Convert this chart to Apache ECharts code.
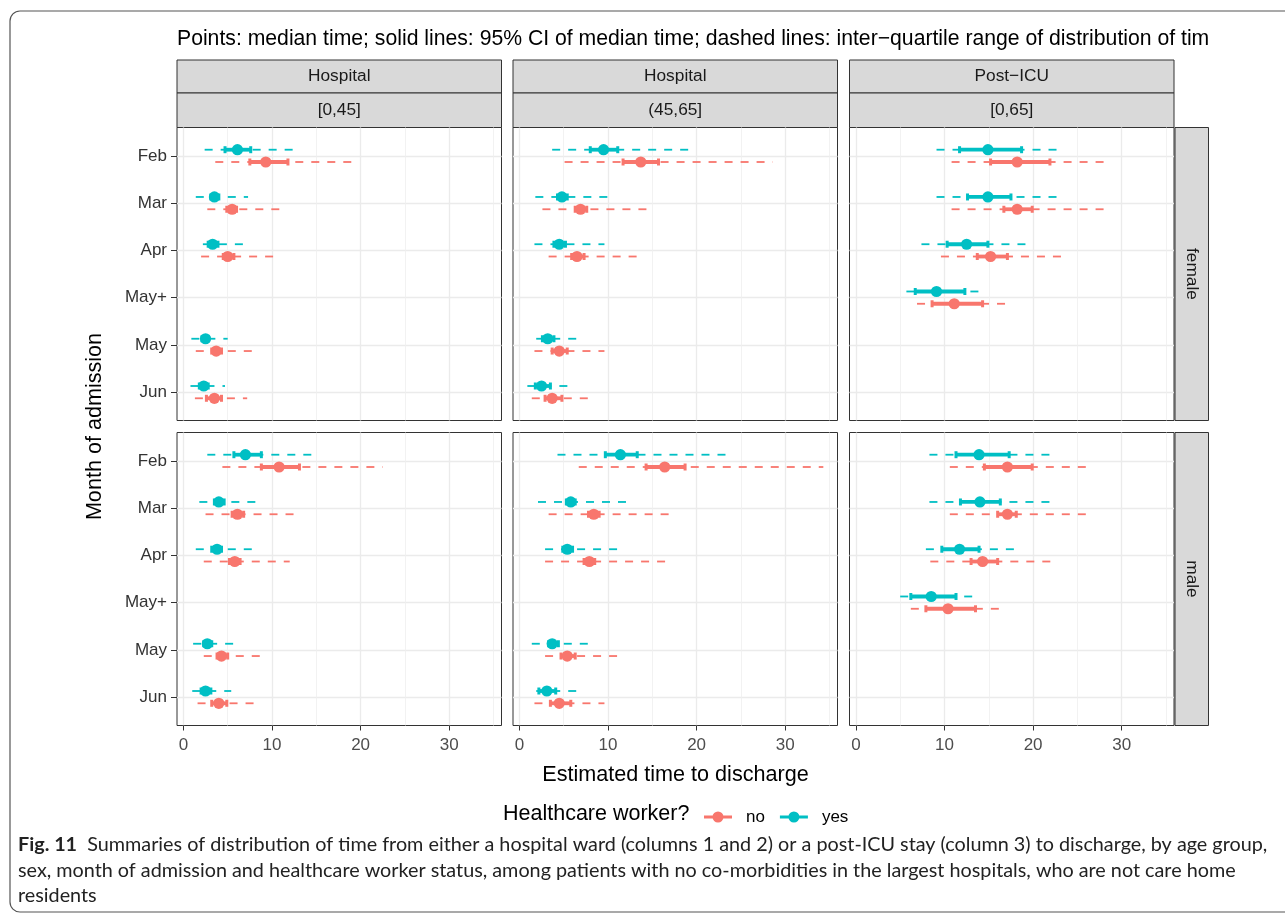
<!DOCTYPE html>
<html>
<head>
<meta charset="utf-8">
<script src="https://cdn.jsdelivr.net/npm/echarts@6/dist/echarts.min.js"></script>
<style>
  html, body { margin: 0; padding: 0; background: #fff; }
  #main { width: 1285px; height: 915px; }
</style>
</head>
<body>
<div id="main"></div>
<script>
// categories / facet labels
const months = ['Feb', 'Mar', 'Apr', 'May+', 'May', 'Jun'];
const setting = ['Hospital', 'Hospital', 'Post\u2212ICU'];
const ageGroup = ['[0,45]', '(45,65]', '[0,65]'];
const sexes = ['female', 'male'];
const xTicks = [0, 10, 20, 30];
const xMinorTicks = [5, 15, 25, 35];

// rows per month: [median, 95% CI low, 95% CI high, IQR low, IQR high]; null = no data
// female
const femHosp045Yes = [[6.1, 4.7, 7.6, 2.4, 12.7], [3.5, 3.1, 4.0, 1.4, 7.3], [3.3, 2.8, 3.9, 2.2, 6.9], null, [2.5, 2.1, 2.8, 0.9, 5.0], [2.3, 1.8, 2.8, 0.8, 4.7]];
const femHosp045No = [[9.3, 7.5, 11.8, 3.6, 19.6], [5.5, 4.9, 6.0, 2.7, 11.3], [5.0, 4.5, 5.7, 2.0, 10.5], null, [3.7, 3.2, 4.3, 1.4, 7.8], [3.5, 2.6, 4.3, 1.3, 7.2]];
const femHosp4565Yes = [[9.5, 8.0, 11.1, 3.7, 19.9], [4.8, 4.3, 5.4, 1.8, 10.1], [4.5, 3.9, 5.2, 1.7, 9.6], null, [3.2, 2.6, 3.9, 1.9, 6.6], [2.5, 1.8, 3.5, 0.9, 5.5]];
const femHosp4565No = [[13.7, 11.7, 15.7, 5.1, 28.6], [6.9, 6.3, 7.6, 2.6, 14.6], [6.5, 5.9, 7.3, 3.3, 13.7], null, [4.5, 3.7, 5.4, 1.7, 9.6], [3.7, 2.9, 4.8, 1.4, 8.0]];
const femIcuYes = [[14.9, 11.7, 18.7, 9.1, 23.4], [14.9, 12.6, 17.5, 9.1, 23.4], [12.5, 10.3, 14.9, 7.4, 19.5], [9.1, 6.7, 12.3, 5.7, 14.2], null, null];
const femIcuNo = [[18.2, 15.2, 21.9, 10.8, 28.6], [18.2, 16.7, 19.9, 10.8, 28.6], [15.2, 13.7, 17.1, 9.6, 23.9], [11.1, 8.6, 14.3, 6.9, 17.4], null, null];
// male
const maleHosp045Yes = [[7.0, 5.7, 8.8, 2.7, 14.6], [4.0, 3.5, 4.6, 1.8, 8.4], [3.8, 3.2, 4.3, 1.4, 7.8], null, [2.7, 2.3, 3.2, 1.1, 5.8], [2.5, 2.0, 3.1, 1.0, 5.4]];
const maleHosp045No = [[10.8, 8.8, 13.1, 4.4, 22.5], [6.1, 5.5, 6.8, 2.5, 13.0], [5.8, 5.2, 6.4, 2.3, 12.0], null, [4.3, 3.8, 5.0, 2.3, 8.9], [4.0, 3.2, 4.9, 1.6, 8.2]];
const maleHosp4565Yes = [[11.4, 9.7, 13.3, 4.3, 23.9], [5.8, 5.3, 6.3, 2.1, 12.2], [5.4, 4.9, 6.0, 2.9, 11.6], null, [3.7, 3.3, 4.4, 1.4, 8.0], [3.1, 2.2, 4.1, 1.9, 6.6]];
const maleHosp4565No = [[16.4, 14.3, 18.7, 6.7, 34.3], [8.4, 7.8, 9.0, 3.3, 17.5], [7.9, 7.3, 8.5, 2.9, 16.5], null, [5.4, 4.7, 6.3, 2.9, 11.6], [4.5, 3.5, 5.8, 1.7, 9.6]];
const maleIcuYes = [[13.9, 11.3, 17.3, 8.3, 21.9], [14.0, 11.8, 16.3, 8.3, 22.0], [11.7, 9.7, 13.9, 7.9, 18.3], [8.5, 6.2, 11.3, 5.0, 13.3], null, null];
const maleIcuNo = [[17.1, 14.5, 19.9, 10.6, 26.8], [17.1, 16.0, 18.1, 10.6, 26.8], [14.3, 13.0, 16.0, 8.4, 22.4], [10.4, 7.9, 13.5, 6.2, 16.3], null, null];

// panels in reading order (row = sex, col = setting/age)
const panelsYes = [femHosp045Yes, femHosp4565Yes, femIcuYes, maleHosp045Yes, maleHosp4565Yes, maleIcuYes];
const panelsNo = [femHosp045No, femHosp4565No, femIcuNo, maleHosp045No, maleHosp4565No, maleIcuNo];

const RED = '#F8766D';
const TEAL = '#00BFC4';
const FONT = 'Liberation Sans, Arial, Helvetica, sans-serif';

// layout (pixels)
const colLeft = [177, 513, 849.5];
const colW = 324.5;
const rowTop = [127.5, 432.5];
const rowH = 293;
const X_MIN = -0.72, X_MAX = 35.9;
const Y_MIN = -0.6, Y_MAX = 5.6;
const DODGE = 0.13;

let chart = echarts.init(document.getElementById('main'));

function toData(rows) {
  let out = [];
  rows.forEach((r, i) => {
    if (r) out.push([i, r[0], r[1], r[2], r[3], r[4]]);
  });
  return out;
}

function makeRender(dodge, color) {
  return function (params, api) {
    let y = api.value(0) + dodge;
    let pm = api.coord([api.value(1), y]);
    let c1 = api.coord([api.value(2), y]);
    let c2 = api.coord([api.value(3), y]);
    let q1 = api.coord([api.value(4), y]);
    let q2 = api.coord([api.value(5), y]);
    return {
      type: 'group',
      children: [
        { type: 'line', shape: { x1: q1[0], y1: q1[1], x2: q2[0], y2: q2[1] },
          style: { stroke: color, lineWidth: 1.8, lineDash: [8, 8] } },
        { type: 'line', shape: { x1: c1[0], y1: c1[1], x2: c2[0], y2: c2[1] },
          style: { stroke: color, lineWidth: 3.8 } },
        { type: 'line', shape: { x1: c1[0], y1: c1[1] - 3.5, x2: c1[0], y2: c1[1] + 3.5 },
          style: { stroke: color, lineWidth: 3 } },
        { type: 'line', shape: { x1: c2[0], y1: c2[1] - 3.5, x2: c2[0], y2: c2[1] + 3.5 },
          style: { stroke: color, lineWidth: 3 } },
        { type: 'circle', shape: { cx: pm[0], cy: pm[1], r: 5.6 }, style: { fill: color } }
      ]
    };
  };
}

let grids = [], xAxes = [], xMinor = [], yAxes = [], series = [], graphics = [];

for (let r = 0; r < 2; r++) {
  for (let c = 0; c < 3; c++) {
    let p = r * 3 + c;
    grids.push({
      left: colLeft[c], top: rowTop[r], width: colW, height: rowH,
      show: true, borderColor: '#333', borderWidth: 1, backgroundColor: '#fff'
    });
    xAxes.push({
      gridIndex: p, type: 'value', min: X_MIN, max: X_MAX, position: 'bottom',
      axisLine: { show: false, onZero: false },
      axisTick: { show: r === 1, length: 5, customValues: xTicks, lineStyle: { color: '#333' } },
      axisLabel: { show: r === 1, customValues: xTicks, color: '#4d4d4d', fontSize: 17, fontFamily: FONT, margin: 11 },
      splitLine: { show: true, lineStyle: { color: '#ebebeb', width: 1.3 } }
    });
    xMinor.push({
      gridIndex: p, type: 'value', min: X_MIN, max: X_MAX, position: 'top',
      axisLine: { show: false, onZero: false },
      axisTick: { show: false, customValues: xMinorTicks },
      axisLabel: { show: false, customValues: xMinorTicks },
      splitLine: { show: true, lineStyle: { color: '#efefef', width: 0.8 } }
    });
    yAxes.push({
      gridIndex: p, type: 'value', min: Y_MIN, max: Y_MAX, inverse: true, position: 'left',
      axisLine: { show: false, onZero: false },
      axisTick: { show: c === 0, length: 6, customValues: [0, 1, 2, 3, 4, 5], lineStyle: { color: '#333' } },
      axisLabel: {
        show: c === 0, customValues: [0, 1, 2, 3, 4, 5], color: '#333', fontSize: 17,
        fontFamily: FONT, margin: 10, formatter: v => months[v]
      },
      splitLine: { show: true, lineStyle: { color: '#ebebeb', width: 1.3 } }
    });
    // dashed/solid/point ranges, "no" first so "yes" sits on top
    series.push({
      name: 'no', type: 'custom', xAxisIndex: p, yAxisIndex: p,
      itemStyle: { color: RED },
      encode: { x: [1, 2, 3, 4, 5], y: 0 },
      renderItem: makeRender(DODGE, RED),
      data: toData(panelsNo[p])
    });
    series.push({
      name: 'yes', type: 'custom', xAxisIndex: p, yAxisIndex: p,
      itemStyle: { color: TEAL },
      encode: { x: [1, 2, 3, 4, 5], y: 0 },
      renderItem: makeRender(-DODGE, TEAL),
      data: toData(panelsYes[p])
    });
  }
}

// strips on top
for (let c = 0; c < 3; c++) {
  [[60, 33, setting[c]], [93, 34.5, ageGroup[c]]].forEach(s => {
    graphics.push({
      type: 'rect', shape: { x: colLeft[c], y: s[0], width: colW, height: s[1] },
      style: { fill: '#d9d9d9', stroke: '#333', lineWidth: 1 }
    });
    graphics.push({
      type: 'text', x: colLeft[c] + colW / 2, y: s[0] + s[1] / 2,
      style: { text: s[2], fill: '#1a1a1a', fontSize: 17.3, fontFamily: FONT, align: 'center', verticalAlign: 'middle' }
    });
  });
}
// strips on right
for (let r = 0; r < 2; r++) {
  graphics.push({
    type: 'rect', shape: { x: 1175, y: rowTop[r], width: 33.5, height: rowH },
    style: { fill: '#d9d9d9', stroke: '#333', lineWidth: 1 }
  });
  graphics.push({
    type: 'text', x: 1175 + 33.5 / 2, y: rowTop[r] + rowH / 2, rotation: -Math.PI / 2,
    style: { text: sexes[r], fill: '#1a1a1a', fontSize: 17.3, fontFamily: FONT, align: 'center', verticalAlign: 'middle' }
  });
}
// axis titles
graphics.push({
  type: 'text', x: (colLeft[0] + colLeft[2] + colW) / 2, y: 775,
  style: { text: 'Estimated time to discharge', fill: '#000', fontSize: 21.6, fontFamily: FONT, align: 'center', verticalAlign: 'middle' }
});
graphics.push({
  type: 'text', x: 95, y: rowTop[0] + (rowTop[1] + rowH - rowTop[0]) / 2, rotation: Math.PI / 2,
  style: { text: 'Month of admission', fill: '#000', fontSize: 21.6, fontFamily: FONT, align: 'center', verticalAlign: 'middle' }
});
// legend title
graphics.push({
  type: 'text', x: 503, y: 814,
  style: { text: 'Healthcare worker?', fill: '#000', fontSize: 21.5, fontFamily: FONT, align: 'left', verticalAlign: 'middle' }
});
// figure frame
graphics.push({
  type: 'rect', z: -10, shape: { x: 10, y: 11, width: 1320, height: 901, r: 10 },
  style: { fill: 'none', stroke: '#555', lineWidth: 1.2 }
});
// caption
graphics.push({
  type: 'text', x: 18, y: 832,
  style: {
    text: '{b|Fig. 11}  Summaries of distribution of time from either a hospital ward (columns 1 and 2) or a post-ICU stay (column 3) to discharge, by age group,\n' +
          'sex, month of admission and healthcare worker status, among patients with no co-morbidities in the largest hospitals, who are not care home\n' +
          'residents',
    fill: '#222', fontSize: 19.8, fontFamily: 'Lato, Open Sans, sans-serif', lineHeight: 25.5,
    rich: { b: { fontWeight: 'bold', fontSize: 19.8, fontFamily: 'Lato, Open Sans, sans-serif', fill: '#222' } }
  }
});

const pointRangeIcon = 'path://M0,4 L28,4 L28,7 L0,7 Z M19.5,5.5 A5.5,5.5 0 1,1 8.5,5.5 A5.5,5.5 0 1,1 19.5,5.5 Z';

let option = {
  animation: false,
  backgroundColor: '#fff',
  title: {
    text: 'Points: median time; solid lines: 95% CI of median time; dashed lines: inter\u2212quartile range of distribution of time to discharge',
    left: 177, top: 29, padding: 0,
    textStyle: { fontSize: 21.2, fontWeight: 'normal', color: '#000', fontFamily: FONT, width: 1043, overflow: 'truncate', ellipsis: '' }
  },
  legend: {
    left: 704, top: 808.5, itemWidth: 28, itemHeight: 11, itemGap: 15, padding: 0,
    textStyle: { fontSize: 17, color: '#000', fontFamily: FONT, padding: [0, 0, 0, 9] },
    data: [{ name: 'no', icon: pointRangeIcon }, { name: 'yes', icon: pointRangeIcon }]
  },
  grid: grids,
  xAxis: xAxes.concat(xMinor),
  yAxis: yAxes,
  series: series,
  graphic: graphics
};

chart.setOption(option);
</script>
</body>
</html>
